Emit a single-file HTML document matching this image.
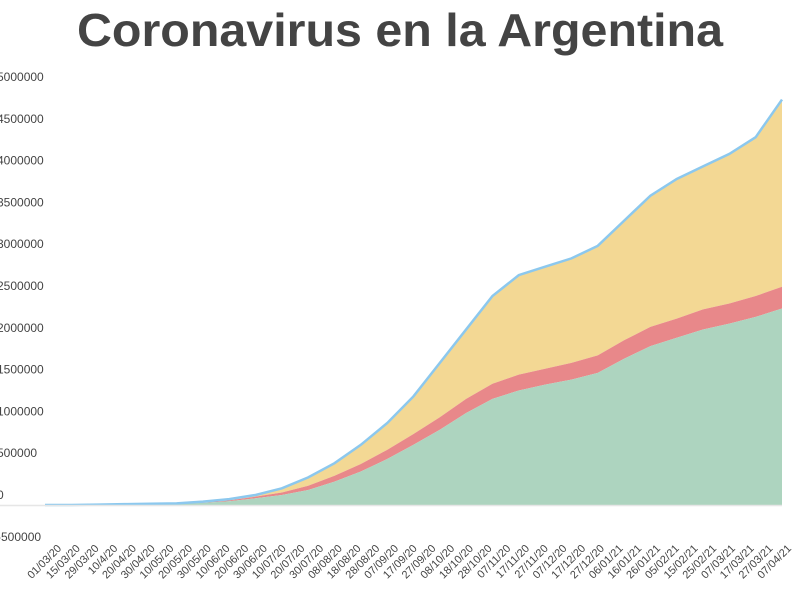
<!DOCTYPE html>
<html><head><meta charset="utf-8"><style>
body{margin:0;background:#fff;}
svg{display:block;font-family:"Liberation Sans",sans-serif;}
</style></head><body>
<svg id="chart" width="800" height="594" viewBox="0 0 800 594">
<text x="400" y="46" text-anchor="middle" font-size="46" font-weight="bold" fill="#444" textLength="646" lengthAdjust="spacingAndGlyphs">Coronavirus en la Argentina</text>
<g id="yaxis"></g>
<g id="areas"></g>
<g id="xaxis"></g>
</svg>
<script>
const dates=["01/03/20","15/03/20","29/03/20","10/4/20","20/04/20","30/04/20","10/05/20","20/05/20","30/05/20","10/06/20","20/06/20","30/06/20","10/07/20","20/07/20","30/07/20","08/08/20","18/08/20","28/08/20","07/09/20","17/09/20","27/09/20","08/10/20","18/10/20","28/10/20","07/11/20","17/11/20","27/11/20","07/12/20","17/12/20","27/12/20","06/01/21","16/01/21","26/01/21","05/02/21","15/02/21","25/02/21","07/03/21","17/03/21","27/03/21","07/04/21"];
const totalVals=[0,0,5000,10000,15000,20000,40000,70000,120000,200000,330000,500000,720000,980000,1300000,1700000,2100000,2500000,2750000,2850000,2950000,3100000,3400000,3700000,3900000,4050000,4200000,4400000,4850000];
const greenVals=[0,0,3000,6000,9000,12000,25000,45000,80000,120000,180000,280000,400000,550000,720000,900000,1100000,1270000,1370000,1440000,1500000,1580000,1750000,1900000,2000000,2100000,2170000,2250000,2350000];
const redVals=[0,0,2000,2000,3000,4000,6000,10000,20000,30000,50000,70000,90000,110000,130000,150000,170000,180000,190000,190000,200000,210000,220000,230000,230000,240000,240000,250000,260000];
const yTicks=[-500000,0,500000,1000000,1500000,2000000,2500000,3000000,3500000,4000000,4500000,5000000];
const NS="http://www.w3.org/2000/svg";
const y=v=>505-v/500000*41.8;
const x=i=>45+i*(782-45)/(totalVals.length-1);
function mk(tag,attrs,parent){const e=document.createElementNS(NS,tag);for(const k in attrs)e.setAttribute(k,attrs[k]);parent.appendChild(e);return e;}
const ya=document.getElementById('yaxis');
yTicks.forEach(t=>{const e=mk('text',{x:-3,y:y(t)-6,'font-size':12,fill:'#444'},ya);


e.textContent=String(t);});
const ar=document.getElementById('areas');
const n=totalVals.length;
const gTop=greenVals, rTop=greenVals.map((g,i)=>g+redVals[i]), tTop=totalVals.map((t,i)=>Math.max(t,rTop[i]));
function area(top,bot,fill,name){let d='M'+x(0)+','+y(top[0]);for(let i=1;i<n;i++)d+='L'+x(i)+','+y(top[i]);for(let i=n-1;i>=0;i--)d+='L'+x(i)+','+y(bot[i]);d+='Z';
const p=mk('path',{d:d,fill:fill},ar);

}
const zero=new Array(n).fill(0);
area(tTop,rTop,'#f3d894','area-active');
area(rTop,gTop,'#e8888a','area-deaths');
area(gTop,zero,'#add4bf','area-recovered');
let ld='M'+x(0)+','+y(tTop[0]);for(let i=1;i<n;i++)ld+='L'+x(i)+','+y(tTop[i]);
const ln=mk('path',{d:ld,fill:'none',stroke:'#8cc8ee','stroke-width':2.5},ar);


const bl=mk('line',{x1:0,x2:782,y1:505.5,y2:505.5,stroke:'#e6e6e6','stroke-width':1.5},ar);


const xa=document.getElementById('xaxis');
const m=dates.length;
dates.forEach((d,i)=>{const px=62+i*(792-62)/(m-1);
const e=mk('text',{x:px,y:549,'font-size':11,fill:'#444','text-anchor':'end',transform:'rotate(-45 '+px+' 549)'},xa);


e.textContent=d;});
</script>
</body></html>
